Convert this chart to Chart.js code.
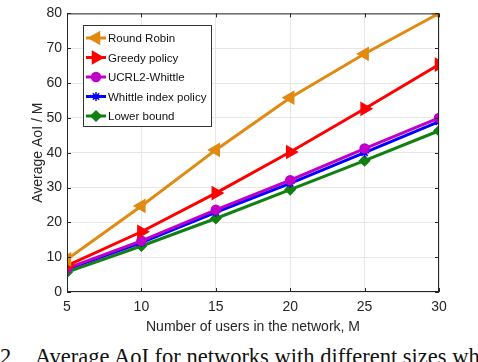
<!DOCTYPE html>
<html>
<head>
<meta charset="utf-8">
<script src="https://cdn.jsdelivr.net/npm/chart.js@4"></script>
<style>
  html, body { margin: 0; padding: 0; background: #fff; }
  #wrap { position: relative; width: 478px; height: 362px; overflow: hidden; }
  #box { position: absolute; left: 0; top: 0; width: 478px; height: 340px; }
  #caption {
    position: absolute; left: 0; top: 346px; white-space: nowrap; line-height: 1;
    font-family: "Liberation Serif", "DejaVu Serif", serif; font-size: 22.5px; color: #111;
  }
  #caption span { display: inline-block; width: 35px; }
</style>
</head>
<body>
<div id="wrap">
  <div id="box"><canvas id="chart"></canvas></div>
  <div id="caption"><span>2</span>Average AoI for networks with different sizes wh</div>
</div>
<script>
(function () {
  const usersM = [5, 10, 15, 20, 25, 30];
  const roundRobin = [9.4, 24.7, 40.8, 55.8, 68.4, 80];
  const greedy = [7.6, 17.3, 28.4, 40.2, 52.6, 65.3];
  const ucrl2Whittle = [6.8, 14.7, 23.6, 32.1, 41.2, 50];
  const whittleIndex = [6.6, 14.2, 22.9, 31.2, 40.0, 48.9];
  const lowerBound = [5.7, 13.2, 21.1, 29.4, 37.7, 46.3];
  const xTicks = [5, 10, 15, 20, 25, 30];
  const yTicks = [0, 10, 20, 30, 40, 50, 60, 70, 80];

  const ink = "#262626";
  const gridColor = "#e6e6e6";
  const font = "Liberation Sans, Arial, sans-serif";

  function series(label, values, color, pointStyle, rotation, radius) {
    return {
      label,
      data: usersM.map((x, i) => ({ x, y: values[i] })),
      borderColor: color,
      backgroundColor: color,
      borderWidth: 3,
      pointStyle,
      rotation,
      pointRadius: radius,
      pointBorderWidth: 1.5,
      pointBorderColor: color,
      pointBackgroundColor: color,
      tension: 0,
      fill: false,
    };
  }

  const datasets = [
    series("Round Robin", roundRobin, "#e08a12", "triangle", -90, 7),
    series("Greedy policy", greedy, "#ff0000", "triangle", 90, 7),
    series("UCRL2-Whittle", ucrl2Whittle, "#c000c8", "circle", 0, 4.5),
    series("Whittle index policy", whittleIndex, "#0000ff", "star", 0, 4.5),
    series("Lower bound", lowerBound, "#108010", "rectRot", 0, 5),
  ];

  // MATLAB style box with inward ticks, and legend inside plot
  const frame = {
    id: "frame",
    afterDatasetsDraw(chart) {
      const { ctx, chartArea: a, scales } = chart;
      ctx.save();
      ctx.strokeStyle = ink;
      ctx.lineWidth = 1;
      ctx.strokeRect(a.left + 0.5, a.top + 0.5, a.right - a.left - 1, a.bottom - a.top - 1);
      ctx.beginPath();
      xTicks.forEach((v) => {
        const x = Math.round(scales.x.getPixelForValue(v)) + 0.5;
        ctx.moveTo(x, a.bottom); ctx.lineTo(x, a.bottom - 4);
        ctx.moveTo(x, a.top); ctx.lineTo(x, a.top + 4);
      });
      yTicks.forEach((v) => {
        const y = Math.round(scales.y.getPixelForValue(v)) + 0.5;
        ctx.moveTo(a.left, y); ctx.lineTo(a.left + 4, y);
        ctx.moveTo(a.right, y); ctx.lineTo(a.right - 4, y);
      });
      ctx.stroke();

      // legend
      const lx = 83, ly = 25, lw = 128, lh = 101, rowH = 19.5;
      ctx.fillStyle = "#fff";
      ctx.fillRect(lx, ly, lw, lh);
      ctx.strokeStyle = "#333";
      ctx.strokeRect(lx + 0.5, ly + 0.5, lw, lh);
      ctx.font = "11.5px " + font;
      ctx.textBaseline = "middle";
      chart.data.datasets.forEach((ds, i) => {
        const y = ly + 13 + i * rowH;
        ctx.strokeStyle = ds.borderColor;
        ctx.lineWidth = 3;
        ctx.beginPath();
        ctx.moveTo(lx + 3, y); ctx.lineTo(lx + 23, y);
        ctx.stroke();
        ctx.fillStyle = ds.backgroundColor;
        ctx.lineWidth = 1.5;
        Chart.helpers.drawPoint(ctx, {
          pointStyle: ds.pointStyle,
          rotation: ds.rotation,
          radius: ds.pointRadius,
          borderWidth: 1.5,
        }, lx + 13, y);
        ctx.fillStyle = "#111";
        ctx.fillText(ds.label, lx + 25, y + 1);
      });
      ctx.restore();
    },
  };

  new Chart(document.getElementById("chart"), {
    type: "line",
    data: { datasets },
    plugins: [frame],
    options: {
      responsive: true,
      maintainAspectRatio: false,
      animation: false,
      layout: { padding: { top: 5, right: 39, left: 26, bottom: 0 } },
      plugins: { legend: { display: false }, tooltip: { enabled: false } },
      scales: {
        x: {
          type: "linear",
          min: 5,
          max: 30,
          afterBuildTicks: (s) => { s.ticks = xTicks.map((v) => ({ value: v })); },
          afterFit: (s) => { s.height = 48; },
          grid: { color: gridColor, drawTicks: false },
          border: { display: false },
          ticks: { color: ink, font: { family: font, size: 14 }, padding: 7 },
          title: { display: true, text: "Number of users in the network, M", color: ink, font: { family: font, size: 14 }, padding: { top: 0 } },
        },
        y: {
          min: 0,
          max: 80,
          afterBuildTicks: (s) => { s.ticks = yTicks.map((v) => ({ value: v })); },
          afterFit: (s) => { s.width = 41; },
          grid: { color: gridColor, drawTicks: false },
          border: { display: false },
          ticks: { color: ink, font: { family: font, size: 14 }, padding: 5 },
          title: { display: true, text: "Average AoI / M", color: ink, font: { family: font, size: 14 }, padding: { top: 4, bottom: 4 } },
        },
      },
    },
  });
})();
</script>
</body>
</html>
